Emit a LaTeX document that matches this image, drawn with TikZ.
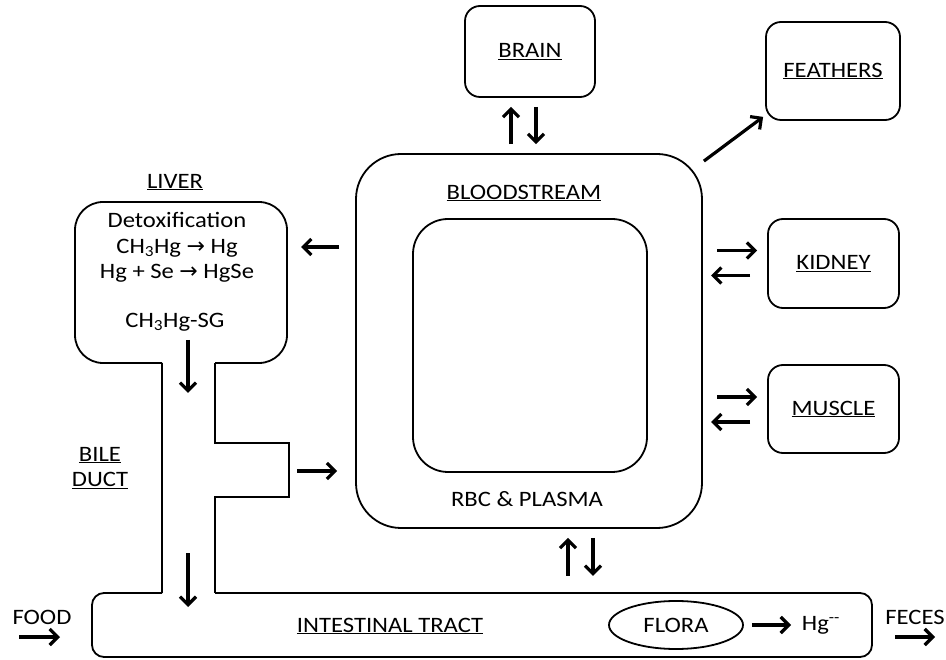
\documentclass[tikz,border=0pt]{standalone}
\usepackage{fontspec}
\setmainfont{Carlito}[FakeStretch=1.12]
\newfontfamily\symfont{DejaVu Sans}
\usetikzlibrary{arrows.meta,calc,shapes.geometric}

\begin{document}
\begin{tikzpicture}[x=1pt,y=-1pt,line width=1.8pt,
  font=\fontsize{22}{25.5}\selectfont,
  organ/.style={draw,rounded corners=15,minimum width=131,minimum height=89},
  flow/.style={line width=3.2pt,-{Straight Barb[length=8pt,width=16pt]}},
  lbl/.style={inner sep=0pt,align=center}]
\useasboundingbox (0,0) rectangle (946,660);
% bloodstream
\node[draw,rounded corners=45,minimum width=346,minimum height=374](blood) at(529,341){};
\node[draw,rounded corners=35,minimum width=234,minimum height=253](rbc) at(530,345.5){};
\node[lbl](bloodtxt) at(524,193){\underline{BLOODSTREAM}};
\node[lbl](rbctxt) at(527,499){RBC \& PLASMA};
% organs
\node[organ,minimum width=130,minimum height=91](brain) at(530,51.5){\underline{BRAIN}};
\node[organ,minimum width=134,minimum height=98](feathers) at(833,71){\underline{FEATHERS}};
\node[organ](kidney) at(833.5,263.5){\underline{KIDNEY}};
\node[organ,minimum height=88](muscle) at(833.5,409){\underline{MUSCLE}};
\draw[flow]($(blood.north)+(-18,-9)$)--($(brain.south)+(-19,9)$);
\draw[flow]($(brain.south)+(6,9)$)--($(blood.north)+(7,-9)$);
\draw[flow]($(blood.north east)+(1,8)$)--($(feathers.south west)+(-2,-4)$);
\draw[flow]($(kidney.west)+(-50,-13)$)--($(kidney.west)+(-10,-13)$);
\draw[flow]($(kidney.west)+(-17,12)$)--($(kidney.west)+(-56,12)$);
\draw[flow]($(muscle.west)+(-50,-12)$)--($(muscle.west)+(-10,-12)$);
\draw[flow]($(muscle.west)+(-17,13)$)--($(muscle.west)+(-56,13)$);
% liver and bile duct
\draw[rounded corners=28](162,363)--(75,363)--(75,202)--(287,202)--(287,363)--(215,363);
\draw(162,363)--(162,593);
\draw(215,363)--(215,443)--(289,443)--(289,497)--(215,497)--(215,593);
\node[lbl](liver) at(175,182){\underline{LIVER}};
\node[lbl](detox) at(177,247.5){Detoxification\\CH\textsubscript{3}Hg {\symfont →} Hg\\Hg + Se {\symfont →} HgSe};
\node[lbl](sg) at(175,322){CH\textsubscript{3}Hg-SG};
\node[lbl](bile) at(100,468){\underline{BILE}\\\underline{DUCT}};
\draw[flow]($(blood.west)+(-16,-94)$)--($(blood.west)+(-54,-94)$);
\draw[flow]($(blood.west)+(-58,130)$)--($(blood.west)+(-18,130)$);
\draw[flow]($(sg.south)+(13,8)$)--($(sg.south)+(13,61)$);
\draw[flow](188,553)--(188,607);
% intestinal tract
\draw[rounded corners=12](162,593)--(92,593)--(92,657)--(872,657)--(872,593)--(215,593);
\node[lbl](gut) at(390,626){\underline{INTESTINAL TRACT}};
\node[draw,ellipse,minimum width=134,minimum height=48,inner sep=0pt](flora) at(676,625){FLORA};
\node[lbl,anchor=west](hg) at(801,625){Hg\textsuperscript{-{}-}};
\draw[flow](flora.east)++(8,0)--($(hg.west)+(-10,0)$);
\draw[flow]($(blood.south)+(39,47)$)--($(blood.south)+(39,9)$);
\draw[flow]($(blood.south)+(64,9)$)--($(blood.south)+(64,47)$);
\node[lbl](food) at(42,617){FOOD};
\node[lbl](feces) at(915,617){FECES};
\draw[flow](19,637)--(60,637);
\draw[flow](895,637)--(935,637);
\end{tikzpicture}
\end{document}
